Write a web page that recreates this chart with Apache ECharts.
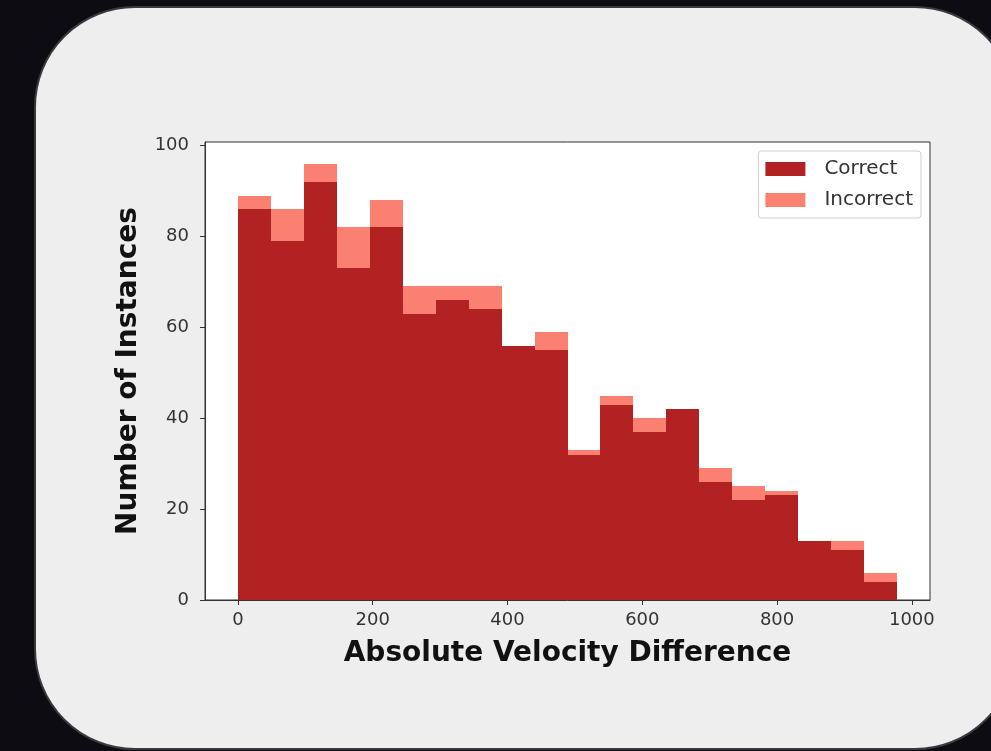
<!DOCTYPE html>
<html>
<head>
<meta charset="utf-8">
<style>
  html, body { margin: 0; padding: 0; background: #0d0c12; }
  #chart { width: 991px; height: 751px; }
</style>
<script src="https://cdn.jsdelivr.net/npm/echarts@6/dist/echarts.min.js"></script>
</head>
<body>
<div id="chart"></div>
<script>
// Histogram bin edges (Absolute Velocity Difference)
const binEdges = [0, 48.9, 97.8, 146.7, 195.6, 244.5, 293.4, 342.3, 391.2, 440.1, 489,
                  537.9, 586.8, 635.7, 684.6, 733.5, 782.4, 831.3, 880.2, 929.1, 978];
// Counts per bin
const correctCounts   = [86, 79, 92, 73, 82, 63, 66, 64, 56, 55, 32, 43, 37, 42, 26, 22, 23, 13, 11, 4];
const incorrectCounts = [3, 7, 4, 9, 6, 6, 3, 5, 0, 4, 1, 2, 3, 0, 3, 3, 1, 0, 2, 2];
const xTicks = [0, 200, 400, 600, 800, 1000];
const yTicks = [0, 20, 40, 60, 80, 100];
const seriesNames = ['Correct', 'Incorrect'];
const seriesColors = ['#b22222', '#fa8072'];

const correctData = correctCounts.map((c, i) => [binEdges[i], binEdges[i + 1], 0, c]);
const incorrectData = incorrectCounts.map((c, i) => [binEdges[i], binEdges[i + 1], correctCounts[i], correctCounts[i] + c]);

function renderItem(params, api) {
  const x0 = api.value(0), x1 = api.value(1), y0 = api.value(2), y1 = api.value(3);
  if (y1 <= y0) return null;
  const pTop = api.coord([x0, y1]);
  const pBot = api.coord([x1, y0]);
  const left = Math.round(pTop[0]), right = Math.round(pBot[0]);
  const top = Math.round(pTop[1]), bottom = Math.round(pBot[1]);
  return {
    type: 'rect',
    shape: { x: left, y: top, width: right - left, height: bottom - top },
    style: { fill: api.visual('color') }
  };
}

const chart = echarts.init(document.getElementById('chart'), null, { renderer: 'canvas' });
const fontTick = 'DejaVu Sans';
chart.setOption({
  backgroundColor: '#0d0c12',
  animation: false,
  graphic: [{
    type: 'rect',
    z: -100,
    silent: true,
    shape: { x: 35, y: 7, width: 980, height: 742, r: 100 },
    style: { fill: '#eeeeee', stroke: '#3a3a3a', lineWidth: 2 }
  }],
  grid: {
    left: 205, right: 61, top: 142, bottom: 151,
    show: true, backgroundColor: '#ffffff', borderColor: '#333333', borderWidth: 1
  },
  legend: {
    orient: 'vertical',
    right: 70, top: 151,
    data: seriesNames.map((n, i) => ({ name: n, icon: 'rect', itemStyle: { color: seriesColors[i] } })),
    itemWidth: 40, itemHeight: 14, itemGap: 11,
    padding: [8, 8, 8, 7],
    backgroundColor: '#ffffff',
    borderColor: '#d0d0d0', borderWidth: 1, borderRadius: 3,
    textStyle: { fontFamily: fontTick, fontSize: 20, color: '#333', padding: [0, 0, 0, 14] }
  },
  xAxis: {
    type: 'value',
    min: -48.9, max: 1026.9,
    name: 'Absolute Velocity Difference',
    nameLocation: 'middle', nameGap: 40,
    nameTextStyle: { fontFamily: 'DejaVu Sans', fontWeight: 'bold', fontSize: 28, color: '#111' },
    axisLine: { show: true, onZero: false, lineStyle: { color: '#333' } },
    axisTick: { show: true, length: 5, lineStyle: { color: '#333' }, customValues: xTicks },
    axisLabel: { fontFamily: fontTick, fontSize: 18, color: '#333', margin: 11, customValues: xTicks,
                 formatter: v => String(v) },
    splitLine: { show: false }
  },
  yAxis: {
    type: 'value',
    min: 0, max: 100.8,
    name: 'Number of Instances',
    nameLocation: 'middle', nameGap: 62, nameRotate: 90,
    nameTextStyle: { fontFamily: 'DejaVu Sans', fontWeight: 'bold', fontSize: 28, color: '#111' },
    axisLine: { show: true, onZero: false, lineStyle: { color: '#333' } },
    axisTick: { show: true, length: 5, lineStyle: { color: '#333' }, customValues: yTicks },
    axisLabel: { fontFamily: fontTick, fontSize: 18, color: '#333', margin: 16, customValues: yTicks,
                 formatter: v => String(v) },
    splitLine: { show: false }
  },
  series: [
    {
      name: seriesNames[0], type: 'custom', renderItem,
      itemStyle: { color: seriesColors[0] },
      encode: { x: [0, 1], y: [2, 3] },
      data: correctData
    },
    {
      name: seriesNames[1], type: 'custom', renderItem,
      itemStyle: { color: seriesColors[1] },
      encode: { x: [0, 1], y: [2, 3] },
      data: incorrectData
    }
  ]
});
</script>
</body>
</html>
